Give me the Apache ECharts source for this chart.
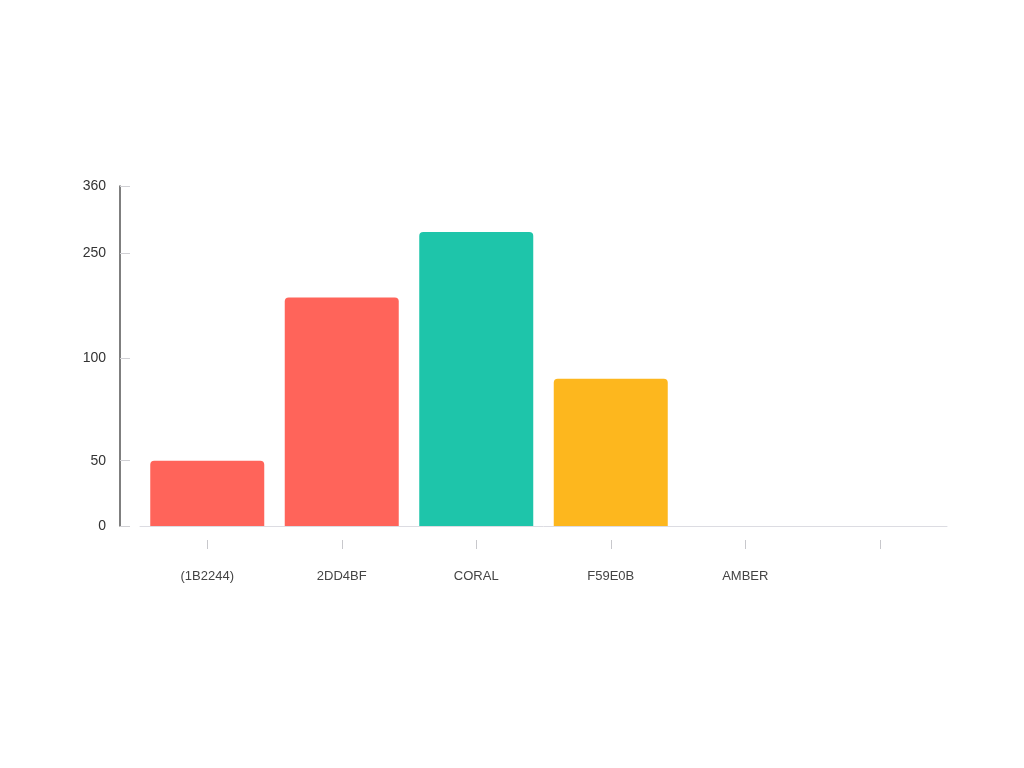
<!DOCTYPE html>
<html>
<head>
<meta charset="utf-8">
<script src="https://cdn.jsdelivr.net/npm/echarts@6/dist/echarts.min.js"></script>
<style>
html,body{margin:0;padding:0;background:#fff;}
#chart{width:1024px;height:768px;}
</style>
</head>
<body>
<div id="chart"></div>
<script>
// ---- data ----
const categories = ['(1B2244)', '2DD4BF', 'CORAL', 'F59E0B', 'AMBER', ''];
const values = [50, 187, 285, 90, 0, null];
const barColors = ['#FF645A', '#FF645A', '#1EC5AA', '#FDB71E', '#FDB71E', '#FDB71E'];
const yTickLabels = [0, 50, 100, 250, 360];

// ---- axis warp (the reference's y scale is non-linear between its labelled ticks) ----
const tickFrac = [0, 0.192, 0.493, 0.802, 1];
function warp(v) {
  if (v == null) return null;
  for (let i = 1; i < yTickLabels.length; i++) {
    if (v <= yTickLabels[i]) {
      const a = yTickLabels[i - 1], b = yTickLabels[i];
      return tickFrac[i - 1] + (v - a) / (b - a) * (tickFrac[i] - tickFrac[i - 1]);
    }
  }
  return 1;
}
function labelFor(f) {
  let best = 0;
  for (let i = 0; i < tickFrac.length; i++) {
    if (Math.abs(tickFrac[i] - f) < Math.abs(tickFrac[best] - f)) best = i;
  }
  return String(yTickLabels[best]);
}

const chart = echarts.init(document.getElementById('chart'));
const font = 'Liberation Sans, Arial, sans-serif';
chart.setOption({
  backgroundColor: '#ffffff',
  animation: false,
  grid: { left: 140, right: 77, top: 186, bottom: 242, containLabel: false },
  xAxis: [
    {
      type: 'category',
      data: categories,
      axisLine: { show: true, lineStyle: { color: '#DCDCE2', width: 1 } },
      axisTick: { show: false },
      axisLabel: { margin: 44, color: '#444', fontSize: 13, fontFamily: font, interval: 0 }
    },
    {
      type: 'category',
      data: categories,
      position: 'bottom',
      offset: 14,
      axisLine: { show: false },
      axisTick: { show: true, alignWithLabel: true, length: 9, lineStyle: { color: '#C8C8CC', width: 1 } },
      axisLabel: { show: false }
    }
  ],
  yAxis: {
    type: 'value',
    min: 0,
    max: 1,
    offset: 20,
    splitLine: { show: false },
    axisLine: { show: true, lineStyle: { color: '#555', width: 1.5 } },
    axisTick: { show: true, inside: true, length: 10, customValues: tickFrac, lineStyle: { color: '#D0D0D4' } },
    axisLabel: {
      customValues: tickFrac,
      formatter: v => labelFor(v),
      color: '#333', fontSize: 14, fontFamily: font, margin: 14
    }
  },
  series: [{
    type: 'bar',
    xAxisIndex: 0,
    barWidth: 114,
    data: values.map((v, i) => ({
      value: warp(v),
      itemStyle: { color: barColors[i], borderRadius: [4, 4, 0, 0] }
    }))
  }]
});
</script>
</body>
</html>
